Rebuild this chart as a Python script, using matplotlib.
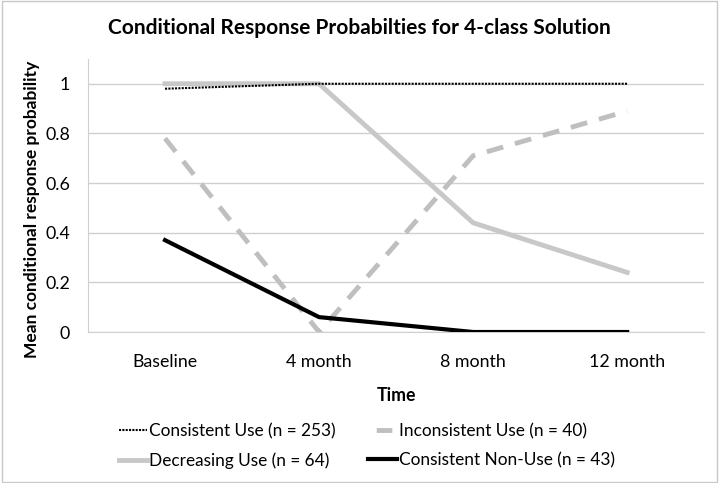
import matplotlib.pyplot as plt
from matplotlib.lines import Line2D
from matplotlib.patches import Rectangle

plt.rcParams['font.family'] = ['Lato', 'DejaVu Sans']

times = ['Baseline', '4 month', '8 month', '12 month']
consistent_use = [0.98, 1.0, 1.0, 1.0]
inconsistent_use = [0.78, 0.0, 0.71, 0.89]
decreasing_use = [1.0, 1.0, 0.44, 0.24]
consistent_non_use = [0.37, 0.06, 0.0, 0.0]
yticks = [0, 0.2, 0.4, 0.6, 0.8, 1]
ytick_labels = ['0', '0.2', '0.4', '0.6', '0.8', '1']

fig = plt.figure(figsize=(7.19, 4.83), dpi=100)
ax = fig.add_axes([0.1224, 0.3126, 0.857, 0.5654])

x = range(len(times))
l1, = ax.plot(x, consistent_use, color='black', linestyle=(0, (1, 0.6)), linewidth=1.5,
              label='Consistent Use (n = 253)', zorder=4)
l2, = ax.plot(x, inconsistent_use, color='#bfbfbf', linestyle=(0, (3.5, 2.5)), linewidth=3.5,
              label='Inconsistent Use (n = 40)', zorder=3)
l3, = ax.plot(x, decreasing_use, color='#c8c8c8', linewidth=3.5,
              label='Decreasing Use (n = 64)', zorder=3)
l4, = ax.plot(x, consistent_non_use, color='black', linewidth=3,
              label='Consistent Non-Use (n = 43)', zorder=4)

# legend proxy for the dashed line: a single dash centred in the handle
l2_leg = Line2D([], [], color='#bfbfbf', linewidth=3.5, linestyle=(4.0, (3.2, 2.5)),
                label='Inconsistent Use (n = 40)')

ax.set_xlim(-0.5, len(times) - 0.5)
ax.set_ylim(0, 1.1)
ax.set_xticks(list(x))
ax.set_xticklabels(times, fontsize=12.8)
ax.set_yticks(yticks)
ax.set_yticklabels(ytick_labels, fontsize=12.8)
ax.tick_params(axis='x', length=0, pad=16)
ax.tick_params(axis='y', length=0, pad=13)
ax.grid(axis='y', color='#d0d0d0', linewidth=1)
ax.set_axisbelow(True)
for s in ['top', 'right']:
    ax.spines[s].set_visible(False)
ax.spines['left'].set_color('#d0d0d0')
ax.spines['bottom'].set_color('#d0d0d0')

ax.set_xlabel('Time', fontsize=12.8, fontweight='bold', labelpad=12)
ax.set_ylabel('Mean conditional response probability', fontsize=12.5, fontweight='bold')
ax.yaxis.set_label_coords(-0.078, 0.45)
fig.text(0.5, 0.942, 'Conditional Response Probabilties for 4-class Solution',
         ha='center', va='center', fontsize=15, fontweight='bold')

fig.legend(handles=[l1, l3, l2_leg, l4], ncol=2, loc='upper left',
           bbox_to_anchor=(119 / 719, 1 - 423 / 483), borderaxespad=0, borderpad=0,
           frameon=False, fontsize=12.4, handlelength=1.65, handletextpad=0.1,
           columnspacing=1.9, labelspacing=0.75)

fig.patches.append(Rectangle((0.003, 0.003), 0.994, 0.994, transform=fig.transFigure,
                             fill=False, edgecolor='#c8c8c8', linewidth=1))

fig.savefig('out.png', dpi=100)
